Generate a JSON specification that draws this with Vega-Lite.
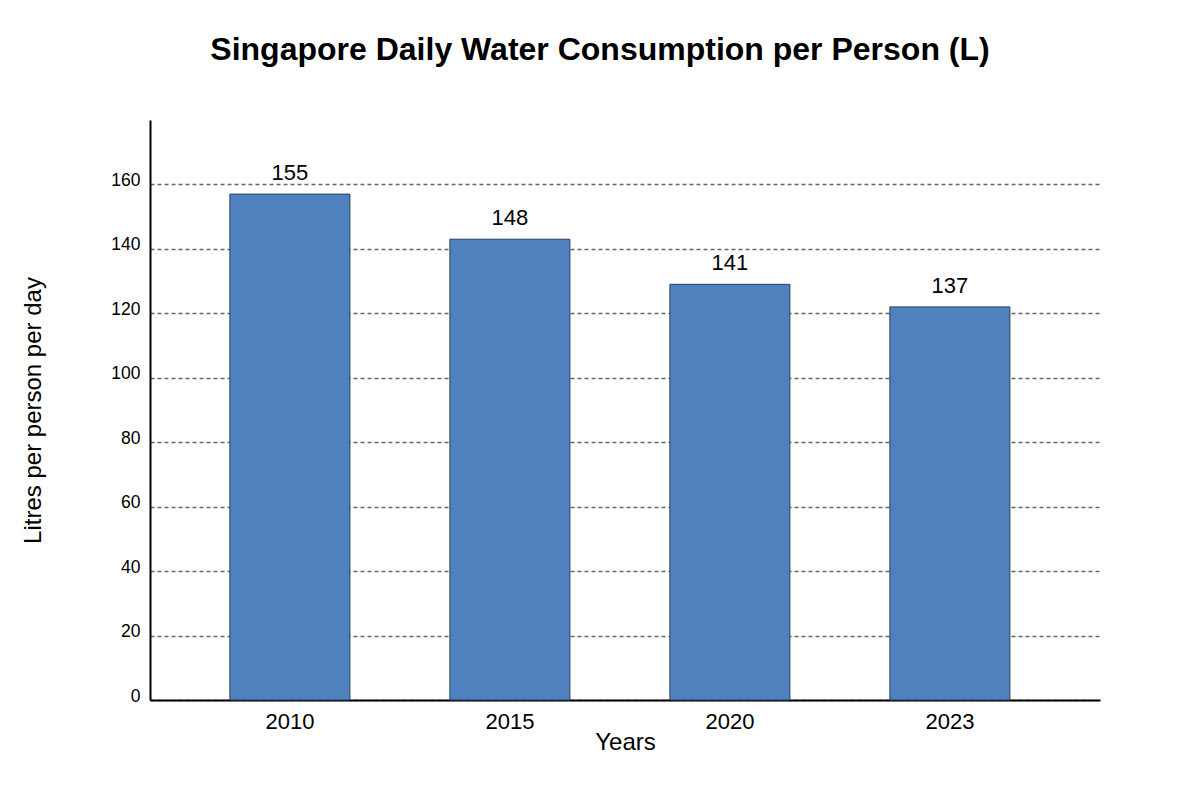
{
  "$schema": "https://vega.github.io/schema/vega-lite/v6.json",
  "autosize": "none",
  "width": 950,
  "height": 580,
  "padding": {"left": 150, "top": 120, "right": 100, "bottom": 100},
  "background": "white",
  "config": {
    "font": "Liberation Sans",
    "view": {"stroke": null}
  },
  "title": {
    "text": "Singapore Daily Water Consumption per Person (L)",
    "fontSize": 32,
    "fontWeight": "bold",
    "color": "black",
    "anchor": "middle",
    "dx": -25,
    "offset": 53
  },
  "data": {
    "values": [
      {"year": "2010", "value": 157, "label": "155"},
      {"year": "2015", "value": 143, "label": "148"},
      {"year": "2020", "value": 129, "label": "141"},
      {"year": "2023", "value": 122, "label": "137"}
    ]
  },
  "encoding": {
    "x": {
      "field": "year",
      "type": "ordinal",
      "scale": {"paddingInner": 0.4545, "paddingOuter": 0.3864, "align": 0.47},
      "axis": {
        "title": "Years",
        "titleFontSize": 24,
        "titleFontWeight": "normal",
        "titleColor": "black",
        "titleY": 42,
        "titleBaseline": "middle",
        "labelAngle": 0,
        "labelFontSize": 22,
        "labelColor": "black",
        "labelPadding": 11,
        "ticks": false,
        "domainColor": "black",
        "domainWidth": 2,
        "grid": false
      }
    },
    "y": {
      "field": "value",
      "type": "quantitative",
      "scale": {"domain": [0, 180], "nice": false},
      "axis": {
        "title": "Litres per person per day",
        "titleFontSize": 24,
        "titleFontWeight": "normal",
        "titleColor": "black",
        "titleX": -117,
        "titleY": 290,
        "titleAngle": -90,
        "titleAlign": "center",
        "titleBaseline": "middle",
        "values": [0, 20, 40, 60, 80, 100, 120, 140, 160],
        "labelFontSize": 17.5,
        "labelColor": "black",
        "labelPadding": 10,
        "labelOffset": -4,
        "ticks": false,
        "domainColor": "black",
        "domainWidth": 2,
        "grid": true,
        "gridColor": "#666666",
        "gridDash": [4, 3],
        "gridWidth": 1.3
      }
    }
  },
  "layer": [
    {
      "mark": {"type": "bar", "color": "#4e81bd", "stroke": "#2b3f5e", "strokeWidth": 1}
    },
    {
      "mark": {"type": "text", "fontSize": 22, "color": "black", "baseline": "bottom", "dy": -9},
      "encoding": {"text": {"field": "label"}}
    }
  ]
}
